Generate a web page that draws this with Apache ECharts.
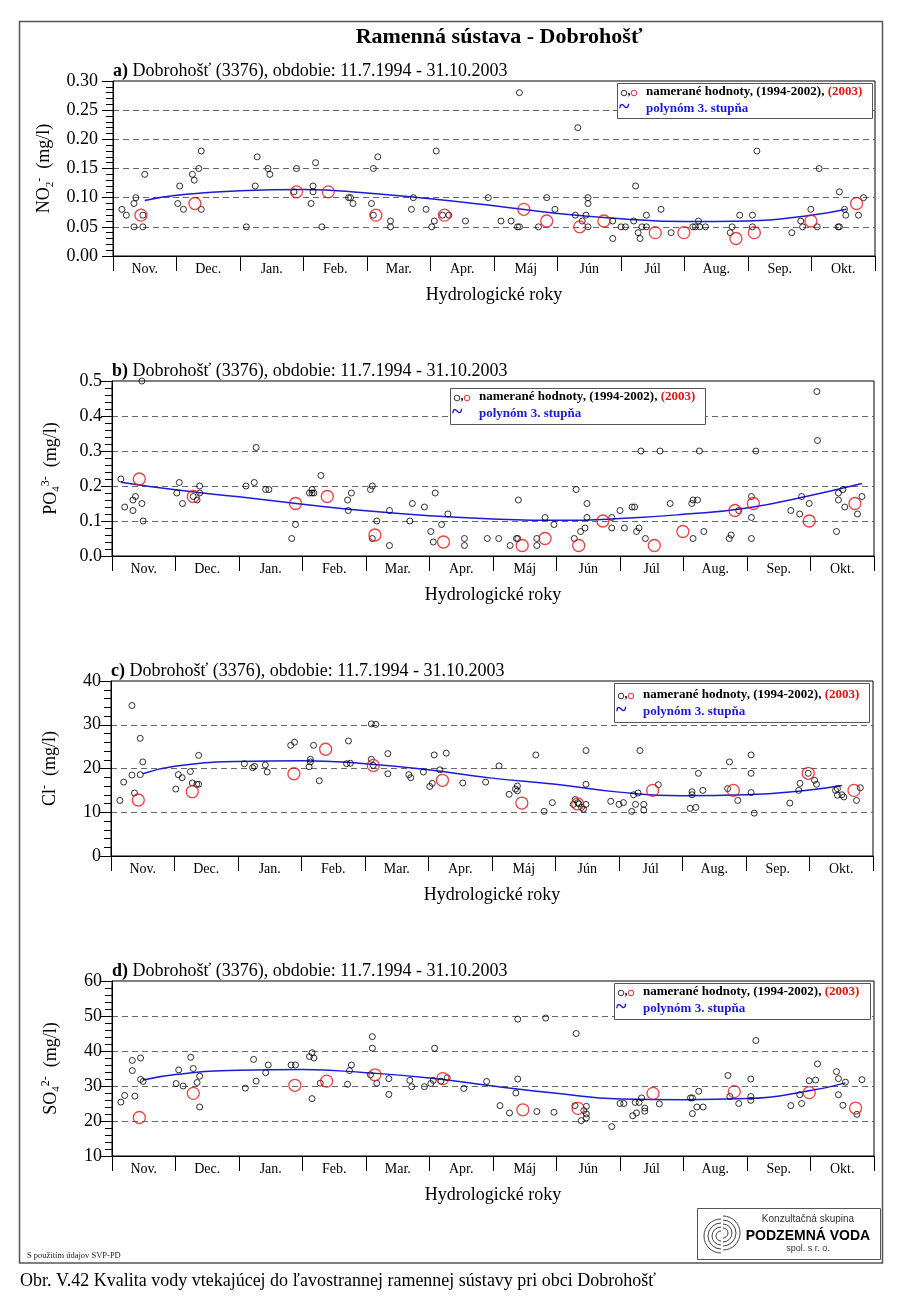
<!DOCTYPE html>
<html><head><meta charset="utf-8">
<script src="https://cdn.jsdelivr.net/npm/echarts@6/dist/echarts.min.js"></script>
<style>html,body{margin:0;padding:0;background:#fff;}#c{width:900px;height:1306px;}</style>
</head><body><div id="c"></div>
<script>
// ---------------- DATA (x = position in hydrological year, months from 1 Nov) ----------------
const months = ['Nov.','Dec.','Jan.','Feb.','Mar.','Apr.','Máj','Jún','Júl','Aug.','Sep.','Okt.'];

const no2Hist = [[0.14,0.08],[0.21,0.07],[0.33,0.09],[0.36,0.10],[0.33,0.05],[0.47,0.05],[0.47,0.07],[0.50,0.14],
[1.02,0.09],[1.05,0.12],[1.11,0.08],[1.25,0.14],[1.28,0.13],[1.35,0.15],[1.39,0.18],[1.39,0.08],
[2.10,0.05],[2.24,0.12],[2.27,0.17],[2.44,0.15],[2.47,0.14],[2.89,0.15],[2.85,0.11],
[3.12,0.09],[3.15,0.12],[3.15,0.11],[3.19,0.16],[3.29,0.05],[3.71,0.10],[3.74,0.10],[3.78,0.09],
[4.07,0.09],[4.10,0.15],[4.10,0.07],[4.17,0.17],[4.37,0.06],[4.37,0.05],[4.70,0.08],[4.73,0.10],[4.93,0.08],
[5.02,0.05],[5.06,0.06],[5.09,0.18],[5.19,0.07],[5.29,0.07],[5.55,0.06],
[5.91,0.10],[6.11,0.06],[6.27,0.06],[6.37,0.05],[6.40,0.05],[6.40,0.28],[6.70,0.05],[6.83,0.10],[6.96,0.08],
[7.28,0.07],[7.32,0.22],[7.39,0.06],[7.45,0.07],[7.48,0.10],[7.48,0.09],[7.48,0.05],[7.87,0.06],[7.87,0.03],
[8.00,0.05],[8.07,0.05],[8.20,0.06],[8.23,0.12],[8.27,0.04],[8.30,0.03],[8.33,0.05],[8.40,0.05],[8.40,0.07],[8.63,0.08],[8.79,0.04],
[9.13,0.05],[9.17,0.05],[9.22,0.06],[9.24,0.05],[9.33,0.05],[9.72,0.04],[9.75,0.05],[9.87,0.07],
[10.07,0.07],[10.07,0.05],[10.14,0.18],[10.69,0.04],[10.83,0.06],[10.86,0.05],[10.99,0.08],[11.09,0.05],[11.12,0.15],
[11.42,0.05],[11.44,0.05],[11.44,0.11],[11.52,0.08],[11.54,0.07],[11.74,0.07],[11.82,0.10]];
const no2_2003 = [[0.44,0.07],[1.29,0.09],[2.89,0.11],[3.39,0.11],[4.14,0.07],[5.22,0.07],[6.47,0.08],[6.83,0.06],
[7.35,0.05],[7.73,0.06],[8.54,0.04],[8.99,0.04],[9.81,0.03],[10.10,0.04],[10.99,0.06],[11.71,0.09]];
const no2Trend = [[0.5,0.095],[1,0.104],[2,0.112],[3,0.114],[4,0.108],[5,0.098],[6,0.086],[7,0.073],[8,0.064],[9,0.059],[10,0.060],[11,0.070],[11.55,0.080]];

const po4Hist = [[0.14,0.22],[0.20,0.14],[0.33,0.13],[0.33,0.16],[0.37,0.17],[0.47,0.15],[0.47,0.50],[0.49,0.10],
[1.02,0.18],[1.06,0.21],[1.11,0.15],[1.28,0.17],[1.34,0.16],[1.38,0.18],[1.38,0.20],
[2.11,0.20],[2.24,0.21],[2.27,0.31],[2.42,0.19],[2.47,0.19],[2.83,0.05],[2.89,0.09],
[3.11,0.18],[3.15,0.19],[3.15,0.18],[3.18,0.18],[3.29,0.23],[3.71,0.16],[3.72,0.13],[3.77,0.18],
[4.07,0.19],[4.10,0.20],[4.10,0.05],[4.17,0.10],[4.37,0.13],[4.37,0.03],[4.69,0.10],[4.73,0.15],[4.92,0.14],
[5.02,0.07],[5.06,0.04],[5.09,0.18],[5.19,0.09],[5.29,0.12],[5.55,0.05],[5.55,0.03],
[5.91,0.05],[6.09,0.05],[6.27,0.03],[6.37,0.05],[6.39,0.05],[6.40,0.16],[6.69,0.05],[6.69,0.03],[6.82,0.11],[6.96,0.09],
[7.28,0.05],[7.31,0.19],[7.38,0.07],[7.45,0.08],[7.48,0.15],[7.48,0.11],[7.87,0.11],[7.87,0.08],
[8.00,0.13],[8.07,0.08],[8.19,0.14],[8.23,0.14],[8.26,0.07],[8.30,0.08],[8.33,0.30],[8.40,0.05],[8.63,0.30],[8.79,0.15],
[9.13,0.15],[9.15,0.16],[9.22,0.16],[9.15,0.05],[9.25,0.30],[9.32,0.07],[9.72,0.05],[9.75,0.06],[9.87,0.13],
[10.07,0.17],[10.07,0.11],[10.07,0.05],[10.14,0.30],[10.69,0.13],[10.83,0.12],[10.86,0.17],[10.98,0.15],[11.10,0.47],[11.11,0.33],
[11.41,0.07],[11.44,0.16],[11.44,0.18],[11.51,0.19],[11.54,0.14],[11.74,0.12],[11.81,0.17]];
const po4_2003 = [[0.43,0.22],[1.28,0.17],[2.89,0.15],[3.39,0.17],[4.14,0.06],[5.22,0.04],[6.46,0.03],[6.82,0.05],
[7.35,0.03],[7.73,0.10],[8.54,0.03],[8.99,0.07],[9.81,0.13],[10.10,0.15],[10.98,0.10],[11.70,0.15]];
const po4Trend = [[0.14,0.211],[1,0.189],[2,0.169],[3,0.148],[4,0.129],[5,0.115],[6,0.106],[7,0.102],[8,0.107],[9,0.119],[10,0.137],[11,0.173],[11.81,0.207]];

const clHist = [[0.14,12.7],[0.20,16.9],[0.33,34.4],[0.33,18.5],[0.37,14.4],[0.46,26.9],[0.46,18.6],[0.50,21.5],
[1.02,15.3],[1.06,18.6],[1.12,17.9],[1.25,19.3],[1.28,16.7],[1.35,16.4],[1.38,23.0],[1.38,16.4],
[2.10,21.1],[2.23,20.2],[2.26,20.5],[2.43,20.8],[2.46,19.2],[2.83,25.3],[2.89,26.0],
[3.12,20.4],[3.14,22.1],[3.14,21.5],[3.19,25.3],[3.28,17.2],[3.71,21.1],[3.74,26.3],[3.77,21.2],
[4.10,30.2],[4.17,30.1],[4.10,22.1],[4.13,20.7],[4.36,23.4],[4.36,18.8],[4.69,18.6],[4.72,17.9],[4.92,19.2],
[5.02,15.9],[5.06,16.6],[5.09,23.1],[5.18,19.7],[5.28,23.5],[5.54,16.7],
[5.90,16.9],[6.11,20.6],[6.27,14.1],[6.37,15.3],[6.40,16.0],[6.40,14.9],[6.69,23.1],[6.82,10.2],[6.95,12.2],
[7.28,11.8],[7.31,12.9],[7.35,12.2],[7.37,11.9],[7.41,11.1],[7.44,10.7],[7.48,11.8],[7.48,16.4],[7.48,24.1],[7.87,12.5],[8.00,11.8],[8.07,12.2],
[8.20,10.2],[8.23,14.0],[8.26,11.8],[8.30,14.4],[8.33,24.1],[8.39,11.8],[8.39,10.5],[8.62,16.3],
[9.12,10.9],[9.21,11.1],[9.15,14.7],[9.15,14.0],[9.25,18.9],[9.32,15.0],[9.71,15.4],[9.74,21.5],[9.87,12.7],
[10.08,23.1],[10.08,18.9],[10.08,14.5],[10.13,9.8],[10.69,12.1],[10.83,15.0],[10.85,16.6],[10.98,18.9],[11.08,17.3],[11.11,16.4],
[11.41,15.0],[11.44,15.4],[11.44,13.9],[11.51,14.0],[11.54,13.5],[11.74,12.7],[11.80,15.6]];
const cl_2003 = [[0.43,12.8],[1.28,14.7],[2.88,18.8],[3.38,24.4],[4.13,20.7],[5.22,17.3],[6.47,12.1],[7.35,11.9],
[8.53,15.0],[9.80,15.0],[10.98,18.9],[11.70,15.0]];
const clTrend = [[0.5,18.8],[1,20.5],[2,21.6],[3,21.8],[4,21.1],[5,19.7],[6,17.8],[7,16.4],[8,14.6],[9,13.8],[10,14.0],[11,15.1],[11.51,16.1]];

const so4Hist = [[0.14,25.4],[0.20,27.3],[0.32,37.3],[0.32,34.4],[0.36,27.1],[0.45,38.0],[0.45,31.9],[0.49,31.3],
[1.01,30.7],[1.05,34.6],[1.12,30.0],[1.24,38.2],[1.28,35.0],[1.34,31.0],[1.38,32.8],[1.38,24.0],
[2.10,29.4],[2.23,37.6],[2.27,31.4],[2.42,33.8],[2.46,36.0],[2.82,36.0],[2.89,36.0],
[3.11,38.4],[3.15,39.5],[3.18,38.0],[3.15,26.4],[3.28,30.8],[3.71,30.5],[3.74,34.4],[3.77,36.0],
[4.10,44.1],[4.10,40.8],[4.07,33.2],[4.17,30.8],[4.36,32.1],[4.36,27.6],[4.69,31.6],[4.72,29.8],[4.92,29.8],
[5.02,30.7],[5.06,31.6],[5.08,40.8],[5.18,31.4],[5.28,32.4],[5.54,29.3],
[5.90,31.3],[6.11,24.4],[6.26,22.3],[6.36,28.0],[6.39,32.0],[6.39,49.1],[6.69,22.7],[6.83,49.4],[6.96,22.5],
[7.29,24.4],[7.31,45.0],[7.39,20.1],[7.43,23.0],[7.47,24.2],[7.47,20.9],[7.47,22.0],[7.87,18.4],[8.00,25.0],[8.06,25.0],
[8.20,21.5],[8.24,25.3],[8.26,22.3],[8.30,25.3],[8.34,26.6],[8.39,23.7],[8.39,22.8],[8.62,24.9],
[9.11,26.6],[9.14,26.6],[9.14,22.1],[9.21,24.0],[9.31,24.0],[9.24,28.5],[9.70,33.0],[9.73,27.0],[9.87,25.0],
[10.06,32.0],[10.06,27.0],[10.06,25.9],[10.14,43.0],[10.69,24.4],[10.83,27.5],[10.86,25.0],[10.98,31.5],[11.08,31.7],[11.11,36.3],
[11.41,34.1],[11.44,32.1],[11.44,27.5],[11.51,24.5],[11.55,31.1],[11.73,21.9],[11.81,31.8]];
const so4_2003 = [[0.43,21.0],[1.28,27.9],[2.88,30.2],[3.38,31.4],[4.14,33.2],[5.21,32.1],[6.47,23.2],[7.34,23.6],
[8.52,27.9],[9.80,28.4],[10.98,28.1],[11.71,23.7]];
const so4Trend = [[0.49,31.7],[1,33.3],[2,34.5],[3,34.7],[4,33.8],[5,32.3],[6,30.0],[7,27.9],[8,26.3],[9,26.1],[10,26.4],[11,28.7],[11.55,30.9]];

const panelTags = ['a)','b)','c)','d)'];
const panelTitle = ' Dobrohošť (3376), obdobie: 11.7.1994 - 31.10.2003';

// ---------------- LAYOUT ----------------
const SERIF = '"Liberation Serif","Times New Roman",serif';
const SANS = '"Liberation Sans",Arial,sans-serif';
const RED = '#e81212', BLUE = '#1a1ad8';
const W = 762, H = 175;
const panels = [
  {top:81,  left:113, min:0,  max:0.30, step:0.05, dec:2, lm:15, yname:'{t|NO}{sub|2}{sup|-}{t|  (mg/l)}', hist:no2Hist, cur:no2_2003, fit:no2Trend, leg:[617,83,255,35,92]},
  {top:381, left:112, min:0,  max:0.5,  step:0.1,  dec:1, lm:10, yname:'{t|PO}{sub|4}{sup|3-}{t|  (mg/l)}', hist:po4Hist, cur:po4_2003, fit:po4Trend, leg:[450,388,255,36,397]},
  {top:681, left:111, min:0,  max:40,   step:10,   dec:0, lm:10, yname:'{t|Cl}{sup|-}{t|  (mg/l)}', hist:clHist, cur:cl_2003, fit:clTrend, leg:[614,683,255,39,695]},
  {top:981, left:112, min:10, max:60,   step:10,   dec:0, lm:10, yname:'{t|SO}{sub|4}{sup|2-}{t|  (mg/l)}', hist:so4Hist, cur:so4_2003, fit:so4Trend, leg:[614,983,256,36,992]}
];

const grid = [], xAxis = [], yAxis = [], series = [], graphic = [];
panels.forEach((p, i) => {
  grid.push({left:p.left, top:p.top, width:W, height:H, show:true, borderColor:'#000', borderWidth:1,
             backgroundColor:'transparent', containLabel:false, outerBoundsMode:'none'});
  xAxis.push({type:'value', gridIndex:i, min:0, max:12, interval:1, position:'bottom',
    axisLine:{show:true, onZero:false, lineStyle:{color:'#000', width:1}},
    axisTick:{show:true, inside:false, length:15, lineStyle:{color:'#000', width:1}},
    axisLabel:{show:false}, splitLine:{show:false}});
  xAxis.push({type:'category', gridIndex:i, data:months, position:'bottom', boundaryGap:true,
    axisLine:{show:false}, axisTick:{show:false}, splitLine:{show:false},
    axisLabel:{show:true, interval:0, margin:6, color:'#000', fontFamily:SERIF, fontSize:14},
    name:'Hydrologické roky', nameLocation:'middle', nameGap:30,
    nameTextStyle:{color:'#000', fontFamily:SERIF, fontSize:18}});
  yAxis.push({type:'value', gridIndex:i, min:p.min, max:p.max, interval:p.step,
    axisLine:{show:true, onZero:false, lineStyle:{color:'#000', width:1}},
    axisTick:{show:true, inside:false, length:11, lineStyle:{color:'#000', width:1}},
    minorTick:{show:true, splitNumber:5, length:7, lineStyle:{color:'#000', width:1}},
    axisLabel:{show:true, margin:p.lm, color:'#000', fontFamily:SERIF, fontSize:18,
      formatter:(v)=>Number(v).toFixed(p.dec)},
    splitLine:{show:true, showMinLine:false, showMaxLine:false, lineStyle:{color:'#666', width:1, type:[6,4]}},
    name:p.yname, nameLocation:'middle', nameRotate:90, nameGap:50,
    nameTextStyle:{color:'#000', fontFamily:SERIF, fontSize:18, rich:{
      t:{fontFamily:SERIF, fontSize:18, color:'#000', lineHeight:22},
      sub:{fontFamily:SERIF, fontSize:11, color:'#000', verticalAlign:'bottom', lineHeight:11},
      sup:{fontFamily:SERIF, fontSize:12, color:'#000', verticalAlign:'top', lineHeight:11}}}});
  series.push({type:'line', xAxisIndex:2*i, yAxisIndex:i, data:p.fit, smooth:true, symbol:'none',
    lineStyle:{color:BLUE, width:1.5}, silent:true, z:2});
  series.push({type:'scatter', xAxisIndex:2*i, yAxisIndex:i, data:p.hist, symbol:'circle', symbolSize:6,
    itemStyle:{color:'rgba(0,0,0,0)', borderColor:'#000', borderWidth:1}, silent:true, z:3});
  series.push({type:'scatter', xAxisIndex:2*i, yAxisIndex:i, data:p.cur, symbol:'circle', symbolSize:12,
    itemStyle:{color:'rgba(0,0,0,0)', borderColor:RED, borderWidth:1.3}, silent:true, z:4});

  // panel title
  graphic.push({type:'text', x:p.left, y:p.top-10, z:20, style:{
    text:'{b|'+panelTags[i]+'}{n|'+panelTitle+'}', verticalAlign:'middle', align:'left',
    rich:{b:{font:'bold 18px '+SERIF, fill:'#000'}, n:{font:'18px '+SERIF, fill:'#000'}}}});
  // legend
  const [lx, ly, lw, lh, l1] = p.leg;
  graphic.push({type:'rect', z:50, shape:{x:lx+0.5, y:ly+0.5, width:lw, height:lh}, style:{fill:'#fff', stroke:'#555', lineWidth:1}});
  graphic.push({type:'circle', z:51, shape:{cx:lx+7, cy:l1+1, r:2.8}, style:{fill:'none', stroke:'#222', lineWidth:0.9}});
  graphic.push({type:'text', z:51, x:lx+10.5, y:l1, style:{text:',', font:'bold 12px '+SERIF, fill:'#000', verticalAlign:'middle'}});
  graphic.push({type:'circle', z:51, shape:{cx:lx+17, cy:l1+1, r:2.8}, style:{fill:'none', stroke:RED, lineWidth:0.9}});
  graphic.push({type:'text', z:51, x:lx+29, y:l1, style:{text:'{k|namerané hodnoty, (1994-2002), }{r|(2003)}', verticalAlign:'middle',
    rich:{k:{font:'bold 13px '+SERIF, fill:'#000'}, r:{font:'bold 13px '+SERIF, fill:RED}}}});
  graphic.push({type:'text', z:51, x:lx+2, y:l1+16, style:{text:'~', font:'bold 20px '+SERIF, fill:BLUE, verticalAlign:'middle'}});
  graphic.push({type:'text', z:51, x:lx+29, y:l1+17, style:{text:'polynóm 3. stupňa', font:'bold 13px '+SERIF, fill:BLUE, verticalAlign:'middle'}});
});

// frame, main title, footer, logo, caption
graphic.push({type:'rect', z:1, shape:{x:19.5, y:21.5, width:863, height:1241.5}, style:{fill:'none', stroke:'#555', lineWidth:1.5}});
graphic.push({type:'text', z:20, x:499, y:37, style:{text:'Ramenná sústava - Dobrohošť', font:'bold 22px '+SERIF, fill:'#000', align:'center', verticalAlign:'middle'}});
graphic.push({type:'text', z:20, x:27, y:1256, style:{text:'S použitím údajov SVP-PD', font:'8.5px '+SERIF, fill:'#222', verticalAlign:'middle'}});
graphic.push({type:'rect', z:20, shape:{x:697.5, y:1208.5, width:183, height:51}, style:{fill:'#fff', stroke:'#555', lineWidth:1}});
[5,9,13,17].forEach(r => {
  graphic.push({type:'arc', z:21, shape:{cx:723, cy:1233, r:r, startAngle:-Math.PI/2, endAngle:Math.PI/2, clockwise:true}, style:{stroke:'#444', lineWidth:1, fill:'none'}});
  graphic.push({type:'arc', z:21, shape:{cx:721, cy:1236, r:r, startAngle:Math.PI/2, endAngle:Math.PI*1.5, clockwise:true}, style:{stroke:'#444', lineWidth:1, fill:'none'}});
});
graphic.push({type:'text', z:21, x:808, y:1219, style:{text:'Konzultačná skupina', font:'10px '+SANS, fill:'#333', align:'center', verticalAlign:'middle'}});
graphic.push({type:'text', z:21, x:808, y:1236, style:{text:'PODZEMNÁ VODA', font:'bold 14px '+SANS, fill:'#000', align:'center', verticalAlign:'middle'}});
graphic.push({type:'text', z:21, x:808, y:1249, style:{text:'spol. s r. o.', font:'9px '+SANS, fill:'#333', align:'center', verticalAlign:'middle'}});
graphic.push({type:'text', z:20, x:20, y:1281, style:{text:'Obr. V.42 Kvalita vody vtekajúcej do ľavostrannej ramennej sústavy pri obci Dobrohošť', font:'18px '+SERIF, fill:'#000', verticalAlign:'middle'}});

const chart = echarts.init(document.getElementById('c'), null, {renderer:'canvas'});
chart.setOption({animation:false, backgroundColor:'#fff', grid, xAxis, yAxis, series, graphic});
</script></body></html>
